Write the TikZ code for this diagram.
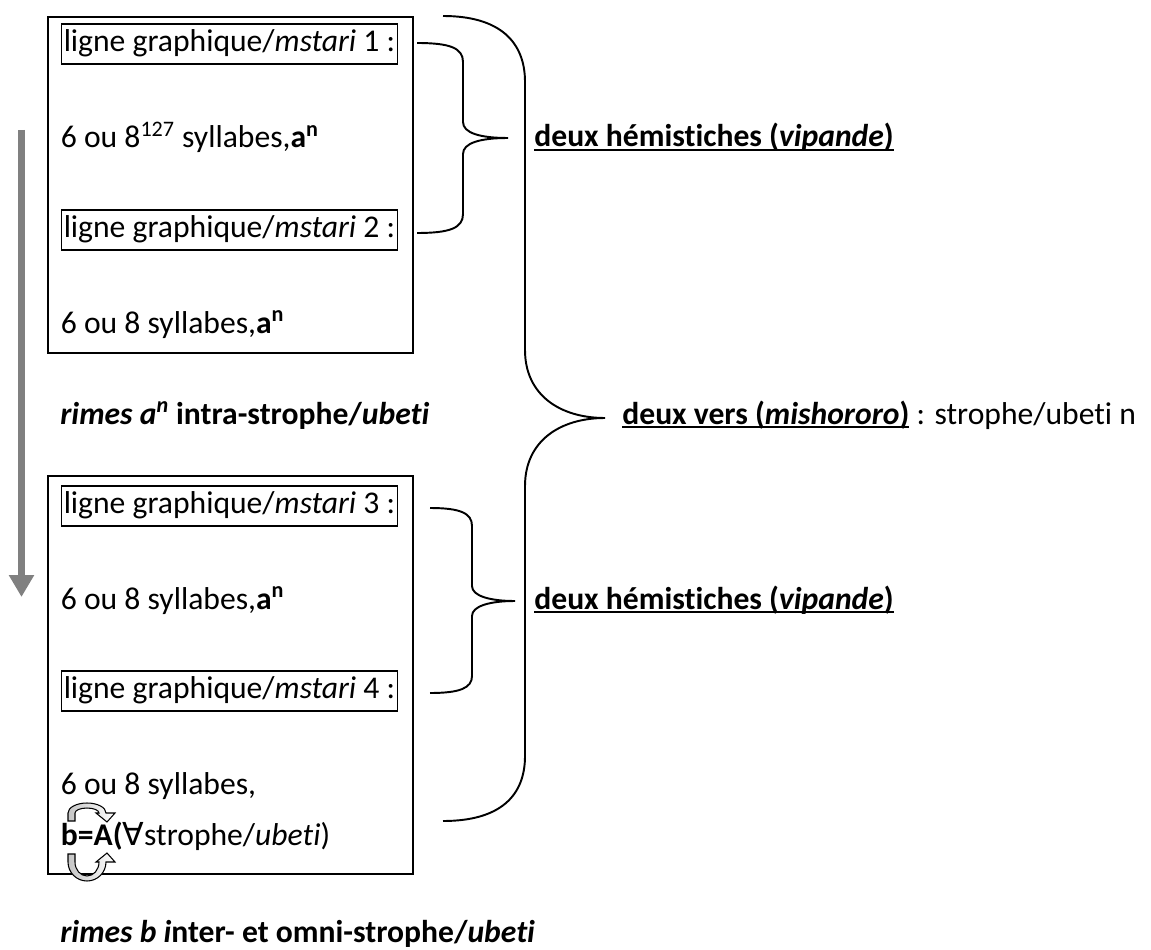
\documentclass[tikz,border=0pt]{standalone}
\usepackage{fontspec}
\setmainfont{Carlito}[Ligatures={NoCommon}]
\newfontfamily\symfont{DejaVu Sans}
\usepackage{tikz}
\usetikzlibrary{arrows.meta}
\definecolor{sweepgray}{HTML}{808080}
\newcommand\ulbox[1]{\setbox0=\hbox{#1}\rlap{\rule[-2.4pt]{\wd0}{1pt}}\box0}

\tikzset{
  outerbox/.style={draw, line width=1.3pt, inner sep=0pt, anchor=north west, minimum width=7.31cm},
  linebox/.style={draw, line width=0.9pt, anchor=north west, inner xsep=1.4pt, inner ysep=0pt,
    text height=13pt, text depth=4pt, minimum height=0.8cm},
  plain/.style={anchor=base west, inner sep=0pt},
  brace line/.style={line width=1.1pt},
  sweep/.style={draw=sweepgray, line width=0.14cm, -{Triangle[width=0.48cm, length=0.44cm]}},
  uturn/.pic={
    \shadedraw[left color=gray!45, right color=white, line width=0.6pt]
      (-19,-8) -- (-19,0) arc[start angle=180, end angle=0, x radius=19, y radius=#1]
      -- (28,0) -- (20,-9) -- (9,0) -- (12,0)
      arc[start angle=0, end angle=180, x radius=12, y radius={#1-5}]
      -- (-12,-8) -- cycle;
  }
}

\begin{document}
\begin{tikzpicture}[x=0.02cm, y=0.02cm, font=\fontsize{18}{22}\selectfont]
        \useasboundingbox (0,0) rectangle (1151,-949);

        % strophe frames
        \node[outerbox, minimum height=6.73cm] (top) at (46.5,-15.7) {};
        \node[outerbox, minimum height=7.96cm] (low) at (46.5,-475) {};

        % first vers
        \node[linebox] (l1) at (60.5,-23) {ligne graphique/\textit{mstari} 1 :};
        \node[plain] (s1) at (60.5,-148) {6 ou 8\textsuperscript{127} syllabes,\textbf{a\textsuperscript{n}}};
        \node[linebox] (l2) at (60.5,-209) {ligne graphique/\textit{mstari} 2 :};
        \node[plain] (s2) at (60.5,-333) {6 ou 8 syllabes,\textbf{a\textsuperscript{n}}};
        \node[plain] (rimeA) at (60,-424) {\textbf{\textit{rimes a\textsuperscript{n}} intra-strophe/\textit{ubeti}}};

        % second vers
        \node[linebox] (l3) at (60.5,-485) {ligne graphique/\textit{mstari} 3 :};
        \node[plain] (s3) at (60.5,-609) {6 ou 8 syllabes,\textbf{a\textsuperscript{n}}};
        \node[linebox] (l4) at (60.5,-670) {ligne graphique/\textit{mstari} 4 :};
        \node[plain] (s4) at (60.5,-794) {6 ou 8 syllabes,};
        \node[plain] (bA) at (60.5,-845) {\textbf{b=A(}{\symfont ∀}strophe/\textit{ubeti})};
        \node[plain] (rimeB) at (60,-942) {\textbf{\textit{rimes b i}nter- et omni-strophe/\textit{ubeti}}};

        % labels
        \node[plain] (hem1) at (534,-147) {\textbf{\ulbox{deux hémistiches (\textit{vipande})}}};
        \node[plain] (hem2) at (534,-609) {\textbf{\ulbox{deux hémistiches (\textit{vipande})}}};
        \node[plain] (vers) at (622,-424) {\textbf{\ulbox{deux vers (\textit{mishororo})}} : strophe/ubeti n};

        % reading direction
        \coordinate (g0) at (21.5,-130);
        \coordinate (g1) at (21.5,-597);
        \draw[sweep] (g0) -- (g1);

        % braces
        \draw[brace line] (417,-43) .. controls (450,-43) and (463,-48) .. (463,-62) -- (463,-122)
          .. controls (463,-133) and (480,-138) .. (508,-138)
          .. controls (480,-138) and (463,-143) .. (463,-154) -- (463,-214)
          .. controls (463,-228) and (450,-233) .. (417,-233);
        \draw[brace line] (430,-508) .. controls (460,-508) and (472,-513) .. (472,-526) -- (472,-586)
          .. controls (472,-596) and (490,-601) .. (515,-601)
          .. controls (490,-601) and (472,-606) .. (472,-616) -- (472,-676)
          .. controls (472,-688) and (460,-693) .. (430,-693);
        \draw[brace line] (443,-16) .. controls (500,-16) and (525,-42) .. (525,-82) -- (525,-350)
          .. controls (525,-395) and (560,-418) .. (605,-418)
          .. controls (560,-418) and (525,-441) .. (525,-486) -- (525,-756)
          .. controls (525,-796) and (500,-821) .. (443,-821);

        % rime arrows
        \pic (turnA) at (87,-813) {uturn=10};
        \pic[yscale=-1] (turnB) at (87,-862) {uturn=19};
\end{tikzpicture}
\end{document}
